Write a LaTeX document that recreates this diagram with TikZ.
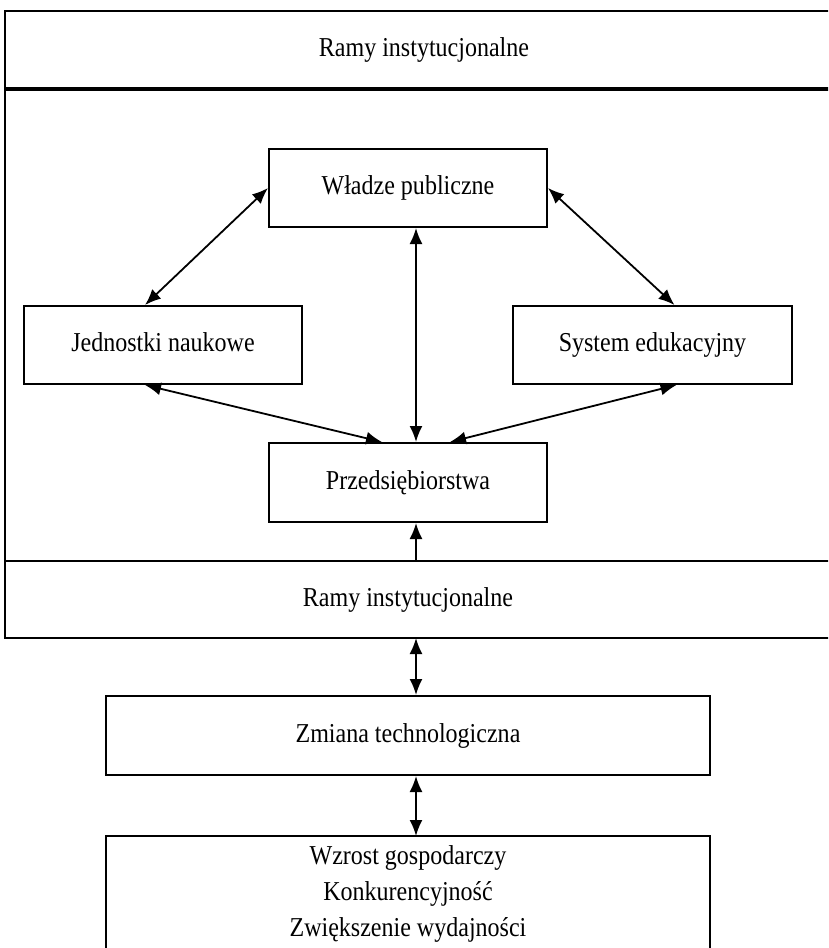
\documentclass[tikz,border=0pt]{standalone}
\usepackage{fontspec}
\setmainfont[FakeStretch=0.88]{Liberation Serif}
\usetikzlibrary{arrows.meta}
\tikzset{
  txt/.style={font=\fontsize{27.3}{34}\selectfont, text height=1.55em, text depth=0.22em},
  box/.style={draw, line width=2pt, inner sep=0pt, minimum width=278pt, minimum height=78pt, txt},
  lbl/.style={inner sep=0pt, txt},
  biarrow/.style={line width=1.8pt, {Latex[length=16pt,width=13pt]}-{Latex[length=16pt,width=13pt]}},
  uniarrow/.style={line width=1.8pt, -{Latex[length=16pt,width=13pt]}},
  frame/.style={line width=2.2pt}
}
\begin{document}
\begin{tikzpicture}[x=1pt,y=-1pt]
\useasboundingbox (0,0) rectangle (828,948);
\clip (0,0) rectangle (828,948);
% outer frame
\draw[frame] (845,11) -- (5,11) -- (5,638) -- (845,638);
\draw[line width=3.2pt] (5,89) -- (845,89);
\draw[frame] (5,561) -- (845,561);
\node[lbl] (ramy1) at (424,50) {Ramy instytucjonalne};
\node[lbl] (ramy2) at (408,600) {Ramy instytucjonalne};
% boxes
\node[box] (wladze) at (408,188) {Władze publiczne};
\node[box] (jedn) at (163,345) {Jednostki naukowe};
\node[box, minimum width=279pt] (system) at (652.5,345) {System edukacyjny};
\node[box, minimum height=79pt] (przed) at (408,482.5) {Przedsiębiorstwa};
\node[box, minimum width=604pt, minimum height=79pt] (zmiana) at (408,735.5) {Zmiana technologiczna};
\draw[line width=2pt] (106,960) -- (106,836) -- (710,836) -- (710,960);
\node[inner sep=0pt, align=center, font=\fontsize{27.3}{36}\selectfont] (wzrost) at (408,894) {Wzrost gospodarczy\\Konkurencyjność\\Zwiększenie wydajności};
\coordinate (wtop) at (416,836);
\coordinate (r2top) at (416,561);
\coordinate (r2bot) at (416,638);
% arrows
\draw[biarrow] (wladze.west) -- ([xshift=-18pt]jedn.north);
\draw[biarrow] (wladze.east) -- ([xshift=22pt]system.north);
\draw[biarrow] ([xshift=8pt]wladze.south) -- ([xshift=8pt]przed.north);
\draw[biarrow] ([xshift=-18pt]jedn.south) -- ([xshift=-26pt]przed.north);
\draw[biarrow] ([xshift=24pt]system.south) -- ([xshift=42pt]przed.north);
\draw[uniarrow] (r2top) -- ([xshift=8pt]przed.south);
\draw[biarrow] (r2bot) -- ([xshift=8pt]zmiana.north);
\draw[biarrow] ([xshift=8pt]zmiana.south) -- (wtop);
\end{tikzpicture}
\end{document}
